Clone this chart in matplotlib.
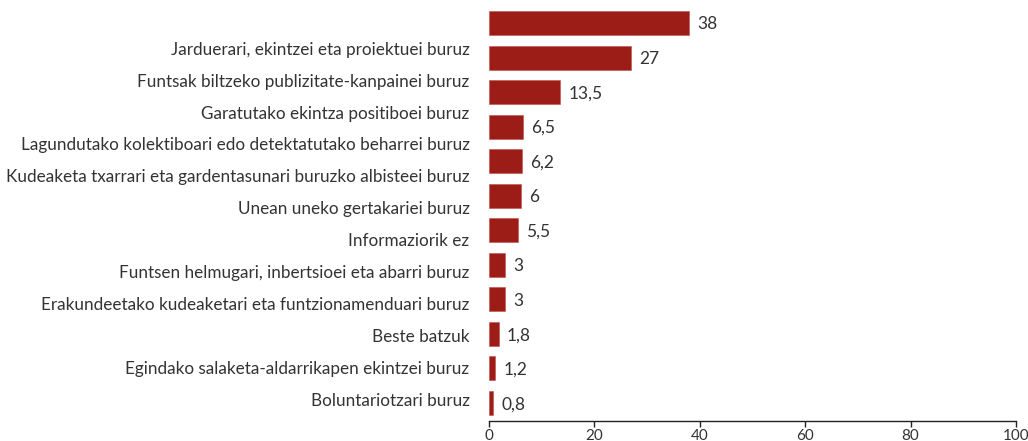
import matplotlib
matplotlib.use("Agg")
import matplotlib.pyplot as plt

categories = [
    "Jarduerari, ekintzei eta proiektuei buruz",
    "Funtsak biltzeko publizitate-kanpainei buruz",
    "Garatutako ekintza positiboei buruz",
    "Lagundutako kolektiboari edo detektatutako beharrei buruz",
    "Kudeaketa txarrari eta gardentasunari buruzko albisteei buruz",
    "Unean uneko gertakariei buruz",
    "Informaziorik ez",
    "Funtsen helmugari, inbertsioei eta abarri buruz",
    "Erakundeetako kudeaketari eta funtzionamenduari buruz",
    "Beste batzuk",
    "Egindako salaketa-aldarrikapen ekintzei buruz",
    "Boluntariotzari buruz",
]
values = [38, 27, 13.5, 6.5, 6.2, 6, 5.5, 3, 3, 1.8, 1.2, 0.8]
value_labels = ["38", "27", "13,5", "6,5", "6,2", "6", "5,5", "3", "3", "1,8", "1,2", "0,8"]
x_ticks = [0, 20, 40, 60, 80, 100]

BAR = "#9c1d17"
TXT = "#333333"
plt.rcParams["font.family"] = ["Lato", "DejaVu Sans"]

fig = plt.figure(figsize=(10.28, 4.41), dpi=100)
ax = fig.add_axes([0.4757, 0.046, 0.5126, 0.941])

ypos = list(range(len(categories)))
ax.barh(ypos, values, height=0.695, color=BAR, edgecolor="#c0504a", linewidth=0.4)

for y, v, lab in zip(ypos, values, value_labels):
    ax.annotate(lab, (v, y), xytext=(6, -1), textcoords="offset points",
                va="center", ha="left", fontsize=12.5, color=TXT)

ax.set_xlim(0, 100)
ax.set_ylim(len(categories) - 0.488, -0.5)

# the category labels sit a bit off the bars, as in the original
label_pos = [0.724 + 0.926 * i for i in ypos]
ax.set_yticks(label_pos)
ax.set_yticklabels(categories, fontsize=12.3, color=TXT)
ax.tick_params(axis="y", length=0, pad=14)

ax.set_xticks(x_ticks)
ax.set_xticklabels([str(t) for t in x_ticks], fontsize=11, color=TXT)
ax.tick_params(axis="x", length=4, width=1, color="#222222", pad=2)

for s in ["top", "right", "left"]:
    ax.spines[s].set_visible(False)
ax.spines["bottom"].set_color("#222222")
ax.spines["bottom"].set_linewidth(1)

fig.savefig("out.png", dpi=100)
